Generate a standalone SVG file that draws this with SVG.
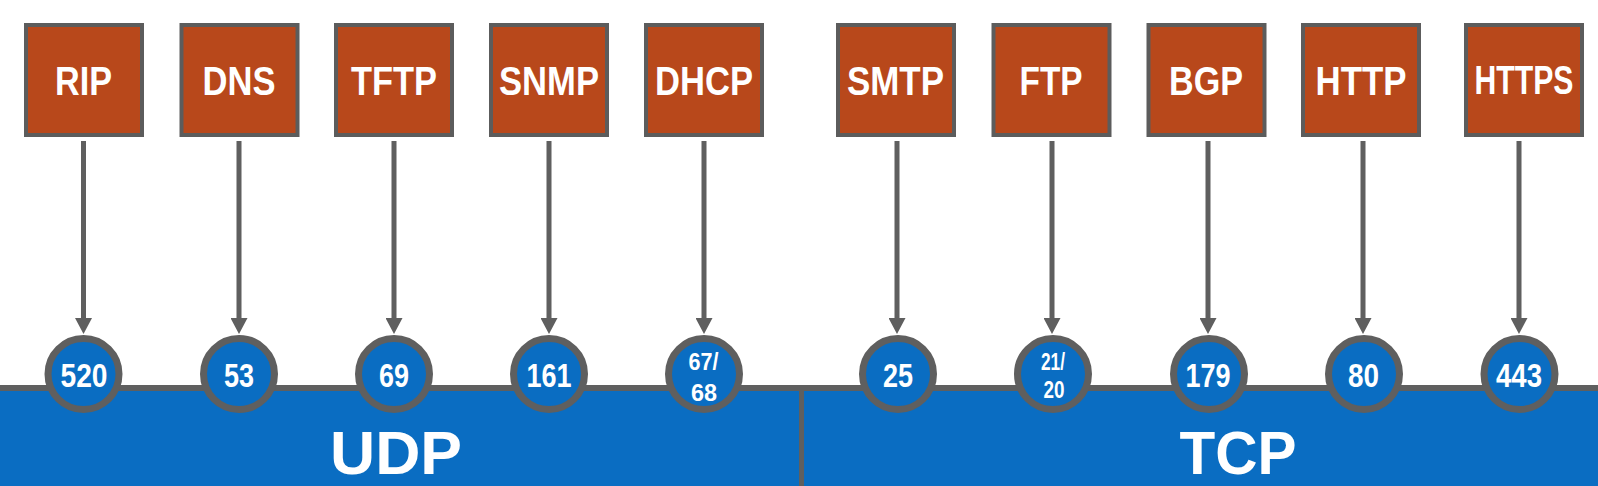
<svg xmlns="http://www.w3.org/2000/svg" width="1598" height="486" viewBox="0 0 1598 486">
<style>
.box{fill:#b8481b;stroke:#5c5c5c;stroke-width:4}
.bt{font-family:"Liberation Sans",Arial,sans-serif;font-weight:bold;font-size:41px;fill:#ffffff;text-anchor:middle}
.port{fill:#0a6dc2;stroke:#5f5f5f;stroke-width:7}
.pt{font-family:"Liberation Sans",Arial,sans-serif;font-weight:bold;font-size:33px;fill:#ffffff;text-anchor:middle}
.ps{font-family:"Liberation Sans",Arial,sans-serif;font-weight:bold;font-size:24px;fill:#ffffff;text-anchor:middle}
.band{fill:#0a6dc2}
.bl{font-family:"Liberation Sans",Arial,sans-serif;font-weight:bold;font-size:62px;fill:#ffffff;text-anchor:middle}
.con{stroke:#5f5f5f;stroke-width:5;fill:none;marker-end:url(#ah)}
</style>
<defs>
<marker id="ah" markerUnits="userSpaceOnUse" markerWidth="16" markerHeight="17" refX="0" refY="8.5" orient="auto" viewBox="0 0 16 17">
<path d="M0,0 L16,8.5 L0,17 z" fill="#5f5f5f"/>
</marker>
</defs>
<rect width="1598" height="486" fill="#ffffff"/>

<g id="udp">
<rect class="band" x="0" y="388" width="801" height="98"/>
<text class="bl" x="396" y="474" textLength="132" lengthAdjust="spacingAndGlyphs">UDP</text>
</g>
<g id="tcp">
<rect class="band" x="801" y="388" width="797" height="98"/>
<text class="bl" x="1238" y="474" textLength="117" lengthAdjust="spacingAndGlyphs">TCP</text>
</g>
<g id="baseline">
<rect x="0" y="385" width="1598" height="6" fill="#5f5f5f"/>
<rect x="799" y="385" width="5" height="101" fill="#5f5f5f"/>
</g>

<g id="connectors">
<line class="con" x1="83.5" y1="141" x2="83.5" y2="318"/>
<line class="con" x1="239" y1="141" x2="239" y2="318"/>
<line class="con" x1="394" y1="141" x2="394" y2="318"/>
<line class="con" x1="549" y1="141" x2="549" y2="318"/>
<line class="con" x1="704" y1="141" x2="704" y2="318"/>
<line class="con" x1="897" y1="141" x2="897" y2="318"/>
<line class="con" x1="1052" y1="141" x2="1052" y2="318"/>
<line class="con" x1="1208" y1="141" x2="1208" y2="318"/>
<line class="con" x1="1363" y1="141" x2="1363" y2="318"/>
<line class="con" x1="1519" y1="141" x2="1519" y2="318"/>
</g>

<g id="rip"><rect class="box" x="26" y="25" width="116" height="110"/><text class="bt" x="83.5" y="94.5" textLength="57" lengthAdjust="spacingAndGlyphs">RIP</text></g>
<g id="dns"><rect class="box" x="181.5" y="25" width="116" height="110"/><text class="bt" x="239" y="94.5" textLength="73" lengthAdjust="spacingAndGlyphs">DNS</text></g>
<g id="tftp"><rect class="box" x="336" y="25" width="116" height="110"/><text class="bt" x="394" y="94.5" textLength="86" lengthAdjust="spacingAndGlyphs">TFTP</text></g>
<g id="snmp"><rect class="box" x="491" y="25" width="116" height="110"/><text class="bt" x="549" y="94.5" textLength="100" lengthAdjust="spacingAndGlyphs">SNMP</text></g>
<g id="dhcp"><rect class="box" x="646" y="25" width="116" height="110"/><text class="bt" x="704" y="94.5" textLength="98" lengthAdjust="spacingAndGlyphs">DHCP</text></g>
<g id="smtp"><rect class="box" x="838" y="25" width="116" height="110"/><text class="bt" x="895.5" y="94.5" textLength="97" lengthAdjust="spacingAndGlyphs">SMTP</text></g>
<g id="ftp"><rect class="box" x="993.5" y="25" width="116" height="110"/><text class="bt" x="1051" y="94.5" textLength="63" lengthAdjust="spacingAndGlyphs">FTP</text></g>
<g id="bgp"><rect class="box" x="1148.5" y="25" width="116" height="110"/><text class="bt" x="1206" y="94.5" textLength="74" lengthAdjust="spacingAndGlyphs">BGP</text></g>
<g id="http"><rect class="box" x="1303" y="25" width="116" height="110"/><text class="bt" x="1361" y="94.5" textLength="91" lengthAdjust="spacingAndGlyphs">HTTP</text></g>
<g id="https"><rect class="box" x="1466" y="25" width="116" height="110"/><text class="bt" x="1524" y="93.5" font-size="38" textLength="99" lengthAdjust="spacingAndGlyphs">HTTPS</text></g>

<g id="p520"><circle class="port" cx="83.5" cy="374" r="35.5"/><text class="pt" x="84" y="387" textLength="47" lengthAdjust="spacingAndGlyphs">520</text></g>
<g id="p53"><circle class="port" cx="239" cy="374" r="35.5"/><text class="pt" x="239" y="387" textLength="30" lengthAdjust="spacingAndGlyphs">53</text></g>
<g id="p69"><circle class="port" cx="394" cy="374" r="35.5"/><text class="pt" x="394" y="387" textLength="30" lengthAdjust="spacingAndGlyphs">69</text></g>
<g id="p161"><circle class="port" cx="549" cy="374" r="35.5"/><text class="pt" x="549" y="387" textLength="45" lengthAdjust="spacingAndGlyphs">161</text></g>
<g id="p6768"><circle class="port" cx="704" cy="374" r="35.5"/><text class="ps" x="703.5" y="369.5" textLength="30" lengthAdjust="spacingAndGlyphs">67/</text><text class="ps" x="704" y="400.5" textLength="26" lengthAdjust="spacingAndGlyphs">68</text></g>
<g id="p25"><circle class="port" cx="898" cy="374" r="35.5"/><text class="pt" x="898" y="386.5" textLength="30" lengthAdjust="spacingAndGlyphs">25</text></g>
<g id="p2120"><circle class="port" cx="1053" cy="374" r="35.5"/><text class="ps" x="1053" y="370" textLength="24" lengthAdjust="spacingAndGlyphs">21/</text><text class="ps" x="1054" y="397.5" textLength="21" lengthAdjust="spacingAndGlyphs">20</text></g>
<g id="p179"><circle class="port" cx="1209" cy="374" r="35.5"/><text class="pt" x="1208" y="387" textLength="45" lengthAdjust="spacingAndGlyphs">179</text></g>
<g id="p80"><circle class="port" cx="1364" cy="374" r="35.5"/><text class="pt" x="1363.5" y="387" textLength="31" lengthAdjust="spacingAndGlyphs">80</text></g>
<g id="p443"><circle class="port" cx="1519.5" cy="374" r="35.5"/><text class="pt" x="1519" y="387" textLength="46" lengthAdjust="spacingAndGlyphs">443</text></g>
</svg>
